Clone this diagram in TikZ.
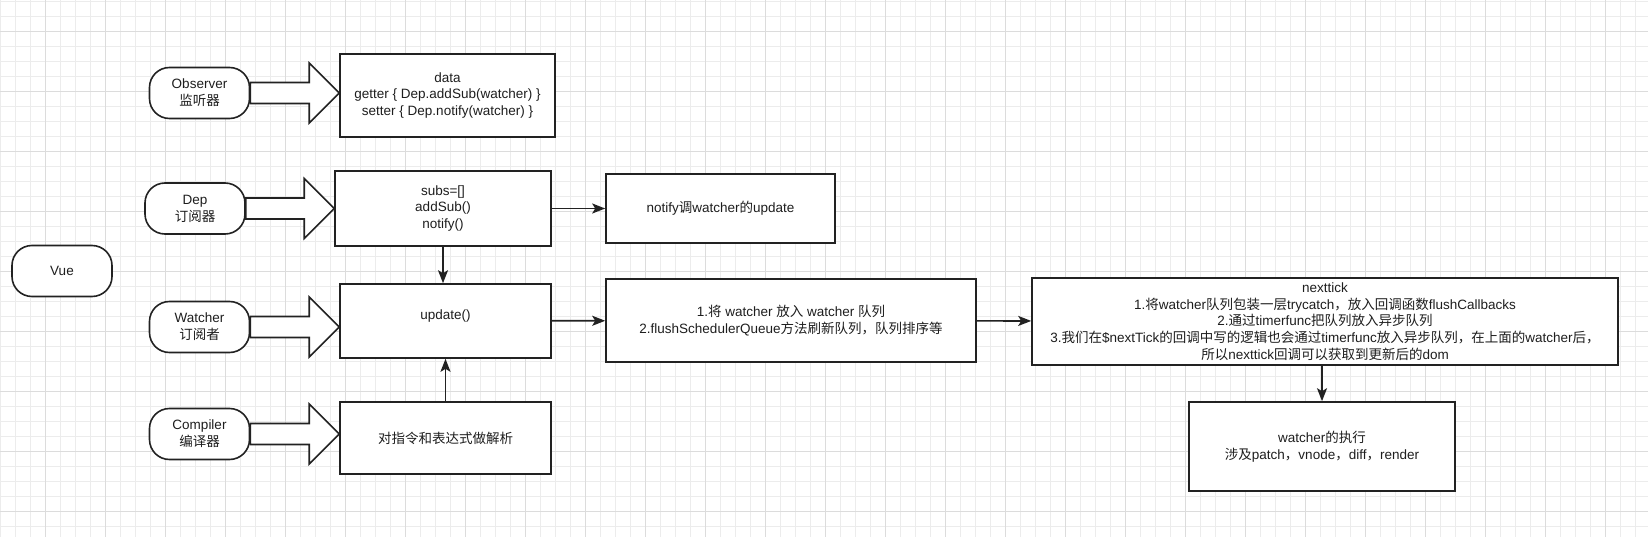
\documentclass[tikz,border=0pt]{standalone}
\usepackage{fontspec}
\setmainfont{Liberation Sans}
\newfontfamily\cjk{Noto Sans CJK SC}
\newcommand{\zh}[1]{{\cjk #1}}
\definecolor{gridminor}{RGB}{236, 236, 236}
\definecolor{gridmajor}{RGB}{220, 220, 220}
\definecolor{ink}{RGB}{34, 34, 34}
\definecolor{textgray}{RGB}{30, 30, 30}
\usetikzlibrary{arrows.meta, calc}

\tikzset{
  pill/.style={draw=ink, line width=1.6pt, fill=white, rounded corners=20pt,
    minimum width=100pt, minimum height=51pt, align=center},
  flowbox/.style={draw=ink, line width=1.6pt, fill=white, align=center},
  link/.style={draw=ink, line width=1.7pt, -{Stealth[length=13pt, width=10pt, inset=3pt]}},
  fat/.style={draw=ink, line width=1.6pt, fill=white, to path={
    ($(\tikztostart)+(0,-10.5)$) -- ($(\tikztostart -| \tikztotarget)+(-30,-10.5)$)
    -- ($(\tikztostart -| \tikztotarget)+(-30,-30)$) -- (\tikztostart -| \tikztotarget)
    -- ($(\tikztostart -| \tikztotarget)+(-30,30)$) -- ($(\tikztostart -| \tikztotarget)+(-30,10.5)$)
    -- ($(\tikztostart)+(0,10.5)$) -- cycle}},
}

\begin{document}
\begin{tikzpicture}[x=1pt, y=-1pt, every node/.style={font=\fontsize{13.5}{16.8}\selectfont, text=textgray}]
  \useasboundingbox (0,0) rectangle (1648,537);
  \fill[white] (0,0) rectangle (1648,537);

  % ===== grid paper =====
  \foreach \x in {0,15,...,1648} \draw[gridminor, line width=0.8pt] (\x,0) -- (\x,537);
  \foreach \y in {1.7,16.7,...,537} \draw[gridminor, line width=0.8pt] (0,\y) -- (1648,\y);
  \foreach \x in {45,105,...,1648} \draw[gridmajor, line width=0.8pt] (\x,0) -- (\x,537);
  \foreach \y in {31.7,91.7,...,537} \draw[gridmajor, line width=0.8pt] (0,\y) -- (1648,\y);

  % ===== roles (left) =====
  \node[pill] (vue) at (62, 271) {Vue};
  \node[pill] (obs) at (199.5, 93) {Observer\\\zh{监听器}};
  \node[pill] (dep) at (195, 208.5) {Dep\\\zh{订阅器}};
  \node[pill] (wat) at (199.5, 327) {Watcher\\\zh{订阅者}};
  \node[pill] (comp) at (199.5, 434) {Compiler\\\zh{编译器}};

  % ===== what each role does =====
  \node[flowbox, minimum width=215pt, minimum height=83pt] (data) at (447.5, 95.5)
    {data\\getter \{ Dep.addSub(watcher) \}\\setter \{ Dep.notify(watcher) \}};
  \node[flowbox, minimum width=216pt, minimum height=75pt] (depbox) at (443, 208.5)
    {subs=[]\\addSub()\\notify()};
  \node[flowbox, minimum width=211pt, minimum height=74pt] (upd) at (445.5, 321)
    {\raisebox{12pt}{update()}};
  \node[flowbox, minimum width=211pt, minimum height=72pt] (parse) at (445.5, 438)
    {\zh{对指令和表达式做解析}};

  % block arrows
  \draw[fat] (obs.east) to (data.west);
  \draw[fat] (dep.east) to (depbox.west);
  \draw[fat] (wat.east) to (upd.west);
  \draw[fat] (comp.east) to (parse.west);

  % ===== update chain =====
  \node[flowbox, minimum width=229pt, minimum height=69pt] (notify) at (720.5, 208.5)
    {notify\zh{调}watcher\zh{的}update};
  \node[flowbox, minimum width=370pt, minimum height=83pt] (queue) at (791, 320.5)
    {1.\zh{将} watcher \zh{放入} watcher \zh{队列}\\2.flushSchedulerQueue\zh{方法刷新队列，队列排序等}};
  \node[flowbox, minimum width=586pt, minimum height=87pt] (tick) at (1325, 321.5)
    {nexttick\\
     1.\zh{将}watcher\zh{队列包装一层}trycatch\zh{，放入回调函数}flushCallbacks\\
     2.\zh{通过}timerfunc\zh{把队列放入异步队列}\\
     3.\zh{我们在}\$nextTick\zh{的回调中写的逻辑也会通过}timerfunc\zh{放入异步队列，在上面的}watcher\zh{后，}\\
     \zh{所以}nexttick\zh{回调可以获取到更新后的}dom};
  \node[flowbox, minimum width=266pt, minimum height=89pt] (exec) at (1322, 446.5)
    {watcher\zh{的执行}\\\zh{涉及}patch\zh{，}vnode\zh{，}diff\zh{，}render};

  % connectors
  \draw[link] (depbox) -- (notify);
  \draw[link] (depbox.south) -- (depbox.south |- upd.north);
  \draw[link] (parse) -- (upd);
  \draw[link] (upd) -- (queue);
  \draw[link] (queue) -- (tick);
  \draw[link] (exec.north |- tick.south) -- (exec);
\end{tikzpicture}
\end{document}
